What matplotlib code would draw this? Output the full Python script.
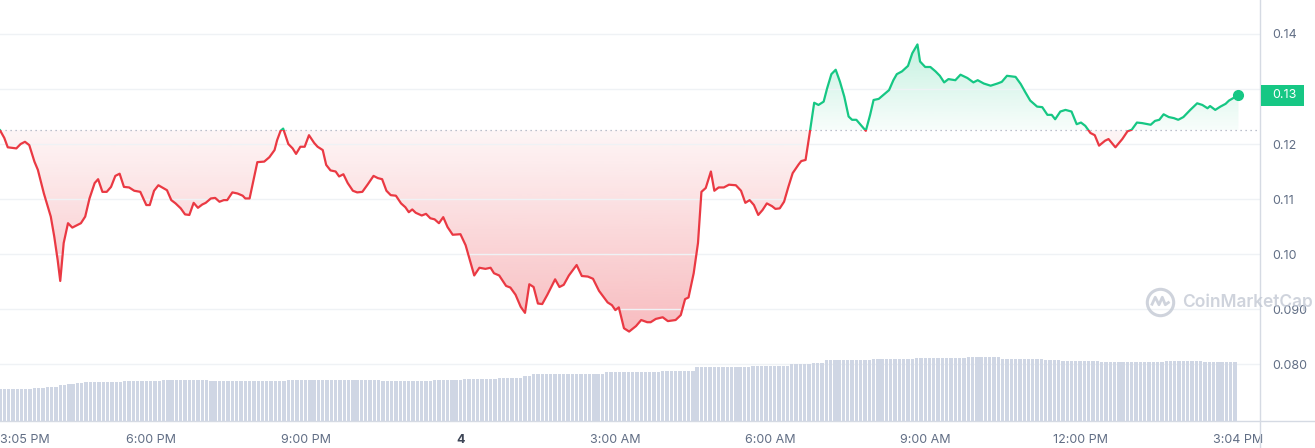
import numpy as np
import pandas as pd
import matplotlib
matplotlib.use("Agg")
import matplotlib.pyplot as plt
import matplotlib.dates as mdates
from matplotlib.path import Path
from matplotlib.patches import Rectangle
from matplotlib.lines import Line2D
from matplotlib.colors import to_rgb
from matplotlib.transforms import blended_transform_factory, IdentityTransform

# Price, minutes after 3:05 PM on day 3
minutes = [0, 5, 9, 19, 24, 29, 34, 40, 44, 51, 59, 63, 67, 70, 74, 79, 84, 94, 99, 104,
           110, 114, 119, 124, 129, 134, 139, 144, 150, 156, 163, 170, 174, 179, 184, 194, 199, 204, 210, 215,
           220, 225, 230, 235, 239, 245, 250, 255, 260, 264, 270, 276, 282, 285, 290, 299, 307, 313, 319, 322,
           326, 329, 335, 340, 344, 349, 354, 359, 365, 369, 375, 379, 384, 390, 394, 399, 404, 410, 415, 421,
           427, 434, 439, 444, 449, 454, 460, 466, 471, 475, 479, 483, 490, 495, 500, 505, 510, 515, 520, 526,
           535, 541, 547, 551, 557, 564, 570, 574, 580, 588, 593, 599, 605, 610, 615, 620, 625, 630, 636, 645,
           650, 655, 661, 670, 676, 683, 689, 696, 706, 711, 715, 719, 725, 731, 739, 745, 752, 756, 762, 770,
           776, 785, 791, 796, 800, 806, 811, 815, 820, 826, 830, 835, 841, 847, 855, 861, 866, 871, 876, 881,
           886, 891, 897, 901, 906, 911, 916, 921, 928, 931, 936, 941, 946, 951, 957, 961, 966, 971, 976, 981,
           986, 990, 995, 1000, 1006, 1011, 1015, 1021, 1027, 1033, 1038, 1042, 1048, 1055, 1060, 1066, 1069, 1075, 1081, 1087,
           1092, 1097, 1102, 1110, 1116, 1124, 1131, 1136, 1143, 1151, 1159, 1164, 1170, 1180, 1186, 1191, 1197, 1205, 1211, 1217,
           1222, 1226, 1232, 1238, 1245, 1251, 1256, 1261, 1267, 1272, 1277, 1284, 1288, 1296, 1304, 1310, 1315, 1321, 1327, 1337,
           1342, 1347, 1352, 1358, 1364, 1369, 1375, 1383, 1391, 1397, 1403, 1406, 1412, 1418, 1424, 1428, 1439]

prices = [0.1225, 0.1211, 0.1194, 0.1192, 0.1200, 0.1204, 0.1198, 0.1168, 0.1153, 0.1110,
          0.1068, 0.1032, 0.0989, 0.0951, 0.1020, 0.1056, 0.1048, 0.1056, 0.1068, 0.1101,
          0.1129, 0.1136, 0.1113, 0.1113, 0.1122, 0.1142, 0.1146, 0.1122, 0.1121, 0.1115,
          0.1113, 0.1089, 0.1089, 0.1115, 0.1125, 0.1116, 0.1098, 0.1092, 0.1083, 0.1072,
          0.1071, 0.1093, 0.1084, 0.1090, 0.1093, 0.1101, 0.1102, 0.1095, 0.1098, 0.1098,
          0.1112, 0.1110, 0.1106, 0.1101, 0.1101, 0.1167, 0.1168, 0.1176, 0.1189, 0.1207,
          0.1224, 0.1228, 0.1200, 0.1192, 0.1182, 0.1195, 0.1195, 0.1216, 0.1202, 0.1195,
          0.1189, 0.1162, 0.1152, 0.1150, 0.1141, 0.1145, 0.1129, 0.1115, 0.1112, 0.1113,
          0.1126, 0.1142, 0.1138, 0.1136, 0.1115, 0.1107, 0.1106, 0.1092, 0.1085, 0.1076,
          0.1081, 0.1075, 0.1070, 0.1073, 0.1065, 0.1063, 0.1056, 0.1067, 0.1049, 0.1035,
          0.1036, 0.1016, 0.0983, 0.0961, 0.0975, 0.0973, 0.0975, 0.0965, 0.0961, 0.0942,
          0.0939, 0.0926, 0.0904, 0.0893, 0.0945, 0.0940, 0.0910, 0.0909, 0.0926, 0.0954,
          0.0940, 0.0944, 0.0961, 0.0980, 0.0960, 0.0959, 0.0955, 0.0933, 0.0912, 0.0907,
          0.0898, 0.0903, 0.0865, 0.0859, 0.0869, 0.0880, 0.0876, 0.0876, 0.0882, 0.0885,
          0.0878, 0.0880, 0.0889, 0.0918, 0.0921, 0.0965, 0.1020, 0.1113, 0.1120, 0.1150,
          0.1115, 0.1121, 0.1121, 0.1126, 0.1125, 0.1115, 0.1093, 0.1098, 0.1089, 0.1071,
          0.1080, 0.1092, 0.1087, 0.1082, 0.1083, 0.1095, 0.1122, 0.1147, 0.1163, 0.1169,
          0.1171, 0.1222, 0.1275, 0.1271, 0.1277, 0.1301, 0.1327, 0.1335, 0.1313, 0.1286,
          0.1250, 0.1244, 0.1244, 0.1235, 0.1224, 0.1253, 0.1280, 0.1282, 0.1290, 0.1298,
          0.1316, 0.1327, 0.1332, 0.1342, 0.1365, 0.1381, 0.1350, 0.1340, 0.1340, 0.1332,
          0.1324, 0.1312, 0.1318, 0.1316, 0.1326, 0.1320, 0.1312, 0.1316, 0.1310, 0.1306,
          0.1310, 0.1313, 0.1324, 0.1322, 0.1309, 0.1295, 0.1279, 0.1268, 0.1267, 0.1253,
          0.1253, 0.1245, 0.1259, 0.1262, 0.1259, 0.1236, 0.1239, 0.1233, 0.1220, 0.1216,
          0.1197, 0.1206, 0.1209, 0.1194, 0.1209, 0.1223, 0.1226, 0.1239, 0.1238, 0.1235,
          0.1242, 0.1244, 0.1254, 0.1249, 0.1247, 0.1244, 0.1249, 0.1262, 0.1274, 0.1271,
          0.1265, 0.1269, 0.1262, 0.1268, 0.1273, 0.1279, 0.1289]

# 24h volume (millions), one bar per 5 minutes, given as level / number of bars
vol_levels = [3.17, 3.27, 3.37, 3.57, 3.67, 3.77, 3.87, 3.93, 4.03, 4.10,
              3.97, 4.00, 4.10, 4.03, 4.13, 4.20, 4.30, 4.50, 4.67, 4.73,
              4.87, 4.97, 5.37, 5.50, 5.67, 5.83, 6.07, 6.17, 6.27, 6.37,
              6.20, 6.10, 6.00, 5.93, 5.97, 5.95]
vol_counts = [8, 3, 3, 2, 2, 2, 4, 5, 9, 11,
              10, 8, 22, 12, 7, 8, 6, 2, 7, 10,
              13, 8, 13, 9, 5, 3, 11, 10, 12, 8,
              10, 4, 9, 15, 9, 8]

tick_times = ["2024-03-03 15:05", "2024-03-03 18:00", "2024-03-03 21:00", "2024-03-04 00:00",
              "2024-03-04 03:00", "2024-03-04 06:00", "2024-03-04 09:00", "2024-03-04 12:00",
              "2024-03-04 15:04"]
tick_labels = ["3:05 PM", "6:00 PM", "9:00 PM", "4", "3:00 AM", "6:00 AM", "9:00 AM", "12:00 PM", "3:04 PM"]

y_ticks = [0.08, 0.09, 0.10, 0.11, 0.12, 0.13, 0.14]
y_labels = ["0.080", "0.090", "0.10", "0.11", "0.12", "0.13", "0.14"]

RED = "#ea3943"
GREEN = "#16c784"
GREY_TXT = "#616e85"
GRID = "#eff2f5"
AXLINE = "#d5dae3"

plt.rcParams["font.family"] = ["Inter", "DejaVu Sans"]

start = pd.Timestamp(tick_times[0])
t = mdates.date2num((start + pd.to_timedelta(minutes, unit="min")).to_pydatetime())
p = np.array(prices)
open_price = prices[0]

vol = np.repeat(vol_levels, vol_counts)
vt = mdates.date2num((start + pd.to_timedelta(np.arange(len(vol)) * 5, unit="min")).to_pydatetime())

W, H = 1315, 448
fig = plt.figure(figsize=(W / 100, H / 100), dpi=100)
rect = [0, 27 / H, 1260 / W, 421 / H]
ax = fig.add_axes(rect)
vax = fig.add_axes(rect, sharex=ax)
ax.set_zorder(1)
vax.set_zorder(2)
vax.patch.set_visible(False)

xlim = (t[0], mdates.date2num(start + pd.Timedelta(minutes=1464)))
ylim = (0.06964, 0.14618)


def gradient_fill(above, color, a0, a1, extreme):
    where = p >= open_price if above else p <= open_price
    coll = ax.fill_between(t, p, open_price, where=where, interpolate=True,
                           facecolor="none", edgecolor="none")
    clip = Path.make_compound_path(*coll.get_paths())
    coll.remove()
    grad = np.zeros((200, 1, 4))
    grad[..., :3] = to_rgb(color)
    grad[..., 3] = np.linspace(a0, a1, 200)[:, None]
    img = ax.imshow(grad, extent=[t[0], t[-1], open_price, extreme], origin="lower",
                    aspect="auto", zorder=1, interpolation="bilinear")
    img.set_clip_path(clip, ax.transData)


gradient_fill(False, RED, 0.05, 0.34, min(prices))
gradient_fill(True, GREEN, 0.03, 0.25, max(prices))

# line coloured against the opening price
up_clip = Rectangle((t[0] - 1, open_price), 3, 1, transform=ax.transData)
dn_clip = Rectangle((t[0] - 1, open_price - 1), 3, 1, transform=ax.transData)
l_dn, = ax.plot(t, p, color=RED, lw=1.6, solid_joinstyle="round", zorder=3)
l_dn.set_clip_path(dn_clip)
l_up, = ax.plot(t, p, color=GREEN, lw=1.6, solid_joinstyle="round", zorder=3)
l_up.set_clip_path(up_clip)
ax.plot(t[-1], p[-1], "o", color=GREEN, ms=7, zorder=4)

ax.axhline(open_price, color="#a6adbd", lw=0.9, ls=(0, (1, 3)), zorder=2)

ax.set_xlim(xlim)
ax.set_ylim(ylim)
ax.set_yticks(y_ticks)
ax.set_yticklabels(y_labels)
ax.yaxis.tick_right()
ax.grid(axis="y", color=GRID, lw=1)
ax.tick_params(axis="y", length=0, pad=9, labelsize=9, colors=GREY_TXT)
ax.set_xticks(mdates.date2num(pd.to_datetime(tick_times).to_pydatetime()))
ax.set_xticklabels(tick_labels)
ax.tick_params(axis="x", length=0, pad=9, labelsize=9, colors=GREY_TXT)
xl = ax.get_xticklabels()
xl[0].set_ha("left")
xl[3].set_fontweight("bold")
xl[3].set_color("#3d4556")
for s in ax.spines.values():
    s.set_visible(False)

# volume bars
vax.bar(vt, vol, width=5 / 1440 * 0.78, color="#cfd6e4", linewidth=0)
vax.set_ylim(0, 42.1)
vax.set_xlim(xlim)
vax.axis("off")

# chart frame lines
fig.add_artist(Line2D([0, 1], [27 / H, 27 / H], transform=fig.transFigure, color=AXLINE, lw=1))
fig.add_artist(Line2D([1260 / W, 1260 / W], [0, 1], transform=fig.transFigure, color=AXLINE, lw=1))

# current price tag, covering the tick label at the same level
tag_text = f"{prices[-1]:.2f}"
for val, lbl in zip(y_ticks, ax.get_yticklabels()):
    if f"{val:.2f}" == tag_text:
        lbl.set_visible(False)
tr = blended_transform_factory(ax.transAxes, ax.transData)
fig.canvas.draw()
xd, yd = tr.transform((1.0, prices[-1]))
fig.add_artist(Rectangle((xd + 1, yd - 10.5), 43, 21, transform=IdentityTransform(),
                         facecolor=GREEN, edgecolor="none", zorder=5))
fig.add_artist(plt.Text(xd + 12, yd, tag_text, transform=IdentityTransform(), ha="left",
                        va="center", color="white", fontsize=9, zorder=6))

# watermark
wm_col = "#c3c9d4"
fig.add_artist(Line2D([1160 / W], [1 - 302 / H], transform=fig.transFigure, marker="o",
                      ms=19, mfc="none", mec=wm_col, mew=2.2, alpha=0.8))
wave = Path([(-0.6, -0.2), (-0.35, 0.35), (-0.1, -0.15), (0.12, 0.35), (0.32, -0.15), (0.6, 0.05)])
fig.add_artist(Line2D([1160 / W], [1 - 302 / H], transform=fig.transFigure, marker=wave,
                      ms=13, mfc="none", mec=wm_col, mew=2.0, alpha=0.8))
fig.text(1182 / W, 1 - 302 / H, "CoinMarketCap", fontsize=12.5, color=wm_col, alpha=0.8,
         ha="left", va="center", fontweight="semibold")

fig.savefig("out.png", dpi=100, facecolor="white")
